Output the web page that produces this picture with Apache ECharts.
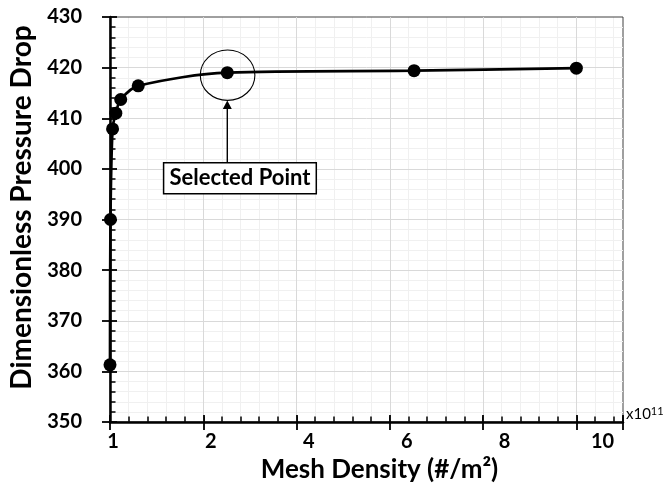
<!DOCTYPE html>
<html>
<head>
<meta charset="utf-8">
<script src="https://cdn.jsdelivr.net/npm/echarts@6/dist/echarts.min.js"></script>
<style>html,body{margin:0;padding:0;background:#fff}#c{width:665px;height:484px}</style>
</head>
<body>
<div id="c"></div>
<script>
// Mesh density positions (axis units, x10^11 scale as drawn) and dimensionless pressure drop
const meshDensity = [0, 0.01, 0.055, 0.125, 0.23, 0.605, 2.515, 6.52, 10.0];
const pressureDrop = [361.3, 390.0, 407.9, 411.0, 413.7, 416.4, 419.0, 419.4, 419.9];
const xTickLabels = ['1', '2', '4', '6', '8', '10'];
const selectedIndex = 6;
const selectedLabel = 'Selected Point';

const FONT = 'Lato';
const chart = echarts.init(document.getElementById('c'), null, {renderer: 'canvas'});

const hidden = {show: false};
const option = {
  backgroundColor: '#fff',
  animation: false,
  grid: {left: 110, right: 42, top: 17, bottom: 62, show: true, borderColor: '#404040', borderWidth: 1, z: 1,
    containLabel: false, outerBoundsMode: 'none'},
  xAxis: [
    { // major grid axis
      type: 'value', position: 'bottom', min: 0, max: 11, interval: 2, z: 2,
      name: '{a|x10}{b|11}', nameLocation: 'end', nameGap: 3,
      nameTextStyle: {verticalAlign: 'bottom', rich: {
        a: {fontFamily: FONT, fontSize: 15, color: '#000', verticalAlign: 'bottom', lineHeight: 16},
        b: {fontFamily: FONT, fontSize: 11, color: '#000', verticalAlign: 'top', lineHeight: 16}
      }},
      axisLine: {show: true, lineStyle: {color: '#000', width: 2.5}},
      axisTick: {show: true, inside: true, length: 7, lineStyle: {color: '#000', width: 1.8}},
      axisLabel: hidden,
      splitLine: {show: true, showMinLine: false, showMaxLine: false, lineStyle: {color: '#d9d9d9', width: 1}}
    },
    { // outer part of major ticks
      type: 'value', position: 'bottom', min: 0, max: 11, interval: 2, z: 2,
      axisLine: hidden, axisLabel: hidden, splitLine: hidden,
      axisTick: {show: true, inside: false, length: 8, lineStyle: {color: '#000', width: 1.8}}
    },
    { // minor grid axis
      type: 'value', position: 'bottom', min: 0, max: 11, interval: 0.4, z: 0,
      axisLine: hidden, axisLabel: hidden,
      axisTick: {show: true, inside: true, length: 5.5, lineStyle: {color: '#000', width: 1.5}},
      splitLine: {show: true, showMinLine: false, showMaxLine: false, lineStyle: {color: '#f0f0f0', width: 1}}
    },
    { // label axis
      type: 'value', position: 'bottom', min: 0, max: 5.24, interval: 1, z: 2,
      axisLine: hidden, axisTick: hidden, splitLine: hidden,
      axisLabel: {show: true, margin: 10, padding: [0, 0, 0, 6], fontFamily: FONT, fontWeight: 'bold', fontSize: 20, color: '#000',
        formatter: v => (Number.isInteger(v) && xTickLabels[v] !== undefined) ? xTickLabels[v] : ''},
      name: 'Mesh Density (#/m²)', nameLocation: 'middle', nameGap: 32,
      nameTextStyle: {fontFamily: FONT, fontWeight: 'bold', fontSize: 26, color: '#000', padding: [0, 0, 0, 26]}
    }
  ],
  yAxis: [
    {
      type: 'value', position: 'left', min: 350, max: 430, interval: 10, z: 2,
      name: 'Dimensionless Pressure Drop', nameLocation: 'middle', nameGap: 68,
      nameTextStyle: {fontFamily: FONT, fontWeight: 'bold', fontSize: 28, color: '#000', padding: [0, 0, 0, 24]},
      axisLine: {show: true, lineStyle: {color: '#000', width: 2.5}},
      axisTick: {show: true, inside: true, length: 7, lineStyle: {color: '#000', width: 1.8}},
      minorTick: {show: true, splitNumber: 5, length: 5.5, lineStyle: {color: '#000', width: 1.5}},
      minorSplitLine: {show: true, lineStyle: {color: '#f0f0f0', width: 1}},
      axisLabel: {show: true, margin: 28, fontFamily: FONT, fontWeight: 'bold', fontSize: 20, color: '#000'},
      splitLine: {show: true, showMinLine: false, showMaxLine: false, lineStyle: {color: '#d9d9d9', width: 1}}
    },
    {
      type: 'value', position: 'left', min: 350, max: 430, interval: 10, z: 2,
      axisLine: hidden, axisLabel: hidden, splitLine: hidden,
      axisTick: {show: true, inside: false, length: 8, lineStyle: {color: '#000', width: 1.8}}
    }
  ],
  series: [{
    type: 'line', xAxisIndex: 0, yAxisIndex: 0, z: 5,
    data: meshDensity.map((x, i) => [x, pressureDrop[i]]),
    smooth: 0.3, clip: false,
    symbol: 'circle', symbolSize: 13,
    itemStyle: {color: '#000'},
    lineStyle: {color: '#000', width: 2.7}
  }]
};
chart.setOption(option);

const p = chart.convertToPixel({xAxisIndex: 0, yAxisIndex: 0}, [meshDensity[selectedIndex], pressureDrop[selectedIndex]]);
const cx = p[0] + 0.3, cy = p[1] + 2.5, rx = 27.3, ry = 25.2;
const boxTop = cy + 87.5, boxLeft = p[0] - 63.7, boxW = 152.7, boxH = 31;
chart.setOption({
  graphic: [
    {type: 'ellipse', z: 10, shape: {cx: cx, cy: cy, rx: rx, ry: ry}, style: {fill: 'none', stroke: '#000', lineWidth: 1.1}},
    {type: 'line', z: 10, shape: {x1: p[0], y1: boxTop, x2: p[0], y2: cy + ry + 7}, style: {stroke: '#000', lineWidth: 1.4}},
    {type: 'polygon', z: 10, shape: {points: [[p[0], cy + ry], [p[0] - 4.5, cy + ry + 8.5], [p[0] + 4.5, cy + ry + 8.5]]}, style: {fill: '#000'}},
    {type: 'rect', z: 10, shape: {x: boxLeft, y: boxTop, width: boxW, height: boxH}, style: {fill: '#fff', stroke: '#000', lineWidth: 1.5}},
    {type: 'text', z: 11, x: boxLeft + boxW / 2, y: boxTop + boxH / 2,
      style: {text: selectedLabel, fontFamily: FONT, fontWeight: 'bold', fontSize: 22, fill: '#000', align: 'center', verticalAlign: 'middle'}}
  ]
});
</script>
</body>
</html>
